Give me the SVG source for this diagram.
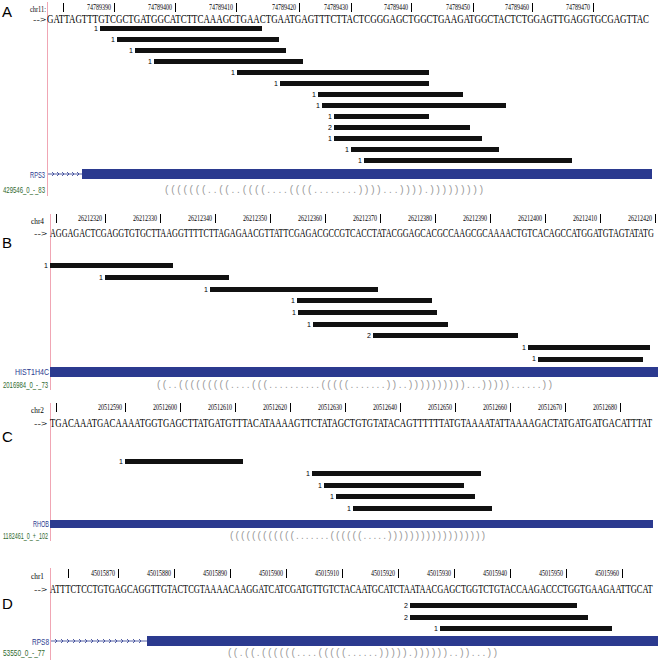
<svg xmlns="http://www.w3.org/2000/svg" width="661" height="662" viewBox="0 0 661 662">
<style>
.bg{fill:#fff}
.pl{font-family:"Liberation Sans",Arial,sans-serif;font-size:15px;fill:#000}
.chr{font-family:"Liberation Serif",serif;font-size:9px;fill:#000}
.tk{stroke:#000;stroke-width:1}
.tl{font-family:"Liberation Serif",serif;font-size:8px;fill:#000;text-anchor:end}
.seq{font-family:"Liberation Serif",serif;font-size:12px;fill:#000}
.arr{font-family:"Liberation Sans",sans-serif;font-size:8px;fill:#000}
.rd{fill:#111}
.cnt{font-family:"Liberation Sans",sans-serif;font-size:7px;fill:#000;text-anchor:end}
.gene{fill:#2b3a8f}
.gn{font-family:"Liberation Sans",sans-serif;font-size:9px;fill:#2b3a8f;text-anchor:end}
.rid{font-family:"Liberation Sans",sans-serif;font-size:9px;fill:#2f6a2f}
.st{font-family:"Liberation Sans",sans-serif;font-size:10px;fill:#999}
.pink{stroke:#f0a6b4;stroke-width:1}
.gl{stroke:#2b3a8f;stroke-width:0.8;fill:none}
</style>
<rect class="bg" x="0" y="0" width="661" height="662"/>

<!-- Panel A -->
<g id="panelA">
<line class="pink" x1="47.5" y1="2" x2="47.5" y2="196"/>
<text class="pl" x="2" y="17">A</text>
<text class="chr" x="30" y="12" textLength="16" lengthAdjust="spacingAndGlyphs">chr11:</text>
<g class="tk"><line x1="63.5" y1="3" x2="63.5" y2="12"/><line x1="114.5" y1="3" x2="114.5" y2="12"/><line x1="175.5" y1="3" x2="175.5" y2="12"/><line x1="236.5" y1="3" x2="236.5" y2="12"/><line x1="299.5" y1="3" x2="299.5" y2="12"/><line x1="351.5" y1="3" x2="351.5" y2="12"/><line x1="411.5" y1="3" x2="411.5" y2="12"/><line x1="473.5" y1="3" x2="473.5" y2="12"/><line x1="532.5" y1="3" x2="532.5" y2="12"/><line x1="593.5" y1="3" x2="593.5" y2="12"/></g>
<g class="tl">
<text x="111" y="10" textLength="24" lengthAdjust="spacingAndGlyphs">74789390</text><text x="172" y="10" textLength="24" lengthAdjust="spacingAndGlyphs">74789400</text><text x="233" y="10" textLength="24" lengthAdjust="spacingAndGlyphs">74789410</text><text x="296" y="10" textLength="24" lengthAdjust="spacingAndGlyphs">74789420</text><text x="348" y="10" textLength="24" lengthAdjust="spacingAndGlyphs">74789430</text><text x="408" y="10" textLength="24" lengthAdjust="spacingAndGlyphs">74789440</text><text x="470" y="10" textLength="24" lengthAdjust="spacingAndGlyphs">74789450</text><text x="529" y="10" textLength="24" lengthAdjust="spacingAndGlyphs">74789460</text><text x="590" y="10" textLength="24" lengthAdjust="spacingAndGlyphs">74789470</text>
</g>
<text class="arr" x="33" y="22" textLength="13" lengthAdjust="spacingAndGlyphs">--&gt;</text>
<text class="seq" transform="translate(47,23) scale(0.7,1)" x="0" y="0" textLength="860" lengthAdjust="spacingAndGlyphs">GATTAGTTTGTCGCTGATGGCATCTTCAAAGCTGAACTGAATGAGTTTCTTACTCGGGAGCTGGCTGAAGATGGCTACTCTGGAGTTGAGGTGCGAGTTAC</text>
</g>
<g id="readsA">
<text class="cnt" x="98" y="31">1</text><rect class="rd" x="100" y="26" width="162" height="5"/>
<text class="cnt" x="115" y="42">1</text><rect class="rd" x="117" y="37" width="162" height="5"/>
<text class="cnt" x="133" y="53">1</text><rect class="rd" x="135" y="48" width="151" height="5"/>
<text class="cnt" x="152" y="64">1</text><rect class="rd" x="154" y="59" width="149" height="5"/>
<text class="cnt" x="235" y="75">1</text><rect class="rd" x="237" y="70" width="192" height="5"/>
<text class="cnt" x="278" y="86">1</text><rect class="rd" x="280" y="81" width="149" height="5"/>
<text class="cnt" x="316" y="97">1</text><rect class="rd" x="318" y="92" width="145" height="5"/>
<text class="cnt" x="320" y="108">1</text><rect class="rd" x="322" y="103" width="184" height="5"/>
<text class="cnt" x="332" y="119">1</text><rect class="rd" x="334" y="114" width="95" height="5"/>
<text class="cnt" x="332" y="130">2</text><rect class="rd" x="334" y="125" width="136" height="5"/>
<text class="cnt" x="332" y="141">1</text><rect class="rd" x="334" y="136" width="148" height="5"/>
<text class="cnt" x="349" y="152">1</text><rect class="rd" x="351" y="147" width="148" height="5"/>
<text class="cnt" x="362" y="163">1</text><rect class="rd" x="364" y="158" width="208" height="5"/>
</g>
<g id="geneA">
<text class="gn" x="45" y="178" textLength="15" lengthAdjust="spacingAndGlyphs">RPS3</text>
<path class="gl" d="M48,174 H82 M52,172 l2,2 l-2,2 M57,172 l2,2 l-2,2 M62,172 l2,2 l-2,2 M67,172 l2,2 l-2,2 M72,172 l2,2 l-2,2 M77,172 l2,2 l-2,2"/>
<rect class="gene" x="82" y="169" width="570" height="10"/>
<text class="rid" x="3" y="193" textLength="42" lengthAdjust="spacingAndGlyphs">429546_0_-_83</text>
<text class="st" x="165" y="193" textLength="318" lengthAdjust="spacing">(((((((..((..((((....((((........))))...)))).)))))))))</text>
</g>

<!-- Panel B -->
<g id="panelB">
<line class="pink" x1="50.5" y1="214" x2="50.5" y2="390"/>
<text class="pl" x="2" y="248">B</text>
<text class="chr" x="31" y="224" textLength="13" lengthAdjust="spacingAndGlyphs">chr4</text>
<g class="tk"><line x1="56.5" y1="214" x2="56.5" y2="223"/><line x1="105.5" y1="214" x2="105.5" y2="223"/><line x1="160.5" y1="214" x2="160.5" y2="223"/><line x1="215.5" y1="214" x2="215.5" y2="223"/><line x1="270.5" y1="214" x2="270.5" y2="223"/><line x1="325.5" y1="214" x2="325.5" y2="223"/><line x1="380.5" y1="214" x2="380.5" y2="223"/><line x1="435.5" y1="214" x2="435.5" y2="223"/><line x1="490.5" y1="214" x2="490.5" y2="223"/><line x1="545.5" y1="214" x2="545.5" y2="223"/><line x1="600.5" y1="214" x2="600.5" y2="223"/><line x1="655.5" y1="214" x2="655.5" y2="223"/></g>
<g class="tl">
<text x="102" y="221" textLength="24" lengthAdjust="spacingAndGlyphs">26212320</text><text x="157" y="221" textLength="24" lengthAdjust="spacingAndGlyphs">26212330</text><text x="212" y="221" textLength="24" lengthAdjust="spacingAndGlyphs">26212340</text><text x="267" y="221" textLength="24" lengthAdjust="spacingAndGlyphs">26212350</text><text x="322" y="221" textLength="24" lengthAdjust="spacingAndGlyphs">26212360</text><text x="377" y="221" textLength="24" lengthAdjust="spacingAndGlyphs">26212370</text><text x="432" y="221" textLength="24" lengthAdjust="spacingAndGlyphs">26212380</text><text x="487" y="221" textLength="24" lengthAdjust="spacingAndGlyphs">26212390</text><text x="542" y="221" textLength="24" lengthAdjust="spacingAndGlyphs">26212400</text><text x="597" y="221" textLength="24" lengthAdjust="spacingAndGlyphs">26212410</text><text x="652" y="221" textLength="24" lengthAdjust="spacingAndGlyphs">26212420</text>
</g>
<text class="arr" x="34" y="236" textLength="13" lengthAdjust="spacingAndGlyphs">--&gt;</text>
<text class="seq" transform="translate(50,237) scale(0.65,1)" x="0" y="0" textLength="929" lengthAdjust="spacingAndGlyphs">AGGAGACTCGAGGTGTGCTTAAGGTTTTCTTAGAGAACGTTATTCGAGACGCCGTCACCTATACGGAGCACGCCAAGCGCAAAACTGTCACAGCCATGGATGTAGTATATG</text>
</g>
<g id="readsB">
<text class="cnt" x="48" y="268">1</text><rect class="rd" x="50" y="263" width="123" height="5"/>
<text class="cnt" x="103" y="280">1</text><rect class="rd" x="105" y="275" width="124" height="5"/>
<text class="cnt" x="208" y="292">1</text><rect class="rd" x="210" y="287" width="168" height="5"/>
<text class="cnt" x="295" y="303">1</text><rect class="rd" x="297" y="298" width="135" height="5"/>
<text class="cnt" x="296" y="315">1</text><rect class="rd" x="298" y="310" width="139" height="5"/>
<text class="cnt" x="311" y="327">1</text><rect class="rd" x="313" y="322" width="135" height="5"/>
<text class="cnt" x="371" y="338">2</text><rect class="rd" x="373" y="333" width="145" height="5"/>
<text class="cnt" x="526" y="350">1</text><rect class="rd" x="528" y="345" width="122" height="5"/>
<text class="cnt" x="536" y="361">1</text><rect class="rd" x="538" y="357" width="105" height="5"/>
</g>
<g id="geneB">
<text class="gn" x="49" y="375" textLength="34" lengthAdjust="spacingAndGlyphs">HIST1H4C</text>
<rect class="gene" x="50" y="367" width="608" height="10"/>
<text class="rid" x="3" y="388" textLength="45" lengthAdjust="spacingAndGlyphs">2016984_0_-_73</text>
<text class="st" x="157" y="388" textLength="395" lengthAdjust="spacing">((..(((((((((....(((..........(((((.......))..))))))))))...)))))......))</text>
</g>

<!-- Panel C -->
<g id="panelC">
<line class="pink" x1="50.5" y1="403" x2="50.5" y2="541"/>
<text class="pl" x="2" y="442">C</text>
<text class="chr" x="31" y="413" textLength="13" lengthAdjust="spacingAndGlyphs">chr2</text>
<g class="tk"><line x1="56.5" y1="403" x2="56.5" y2="412"/><line x1="125.5" y1="403" x2="125.5" y2="412"/><line x1="180.5" y1="403" x2="180.5" y2="412"/><line x1="235.5" y1="403" x2="235.5" y2="412"/><line x1="290.5" y1="403" x2="290.5" y2="412"/><line x1="345.5" y1="403" x2="345.5" y2="412"/><line x1="400.5" y1="403" x2="400.5" y2="412"/><line x1="455.5" y1="403" x2="455.5" y2="412"/><line x1="510.5" y1="403" x2="510.5" y2="412"/><line x1="565.5" y1="403" x2="565.5" y2="412"/><line x1="620.5" y1="403" x2="620.5" y2="412"/></g>
<g class="tl">
<text x="122" y="410" textLength="24" lengthAdjust="spacingAndGlyphs">20512590</text><text x="177" y="410" textLength="24" lengthAdjust="spacingAndGlyphs">20512600</text><text x="232" y="410" textLength="24" lengthAdjust="spacingAndGlyphs">20512610</text><text x="287" y="410" textLength="24" lengthAdjust="spacingAndGlyphs">20512620</text><text x="342" y="410" textLength="24" lengthAdjust="spacingAndGlyphs">20512630</text><text x="397" y="410" textLength="24" lengthAdjust="spacingAndGlyphs">20512640</text><text x="452" y="410" textLength="24" lengthAdjust="spacingAndGlyphs">20512650</text><text x="507" y="410" textLength="24" lengthAdjust="spacingAndGlyphs">20512660</text><text x="562" y="410" textLength="24" lengthAdjust="spacingAndGlyphs">20512670</text><text x="617" y="410" textLength="24" lengthAdjust="spacingAndGlyphs">20512680</text>
</g>
<text class="arr" x="34" y="426" textLength="13" lengthAdjust="spacingAndGlyphs">--&gt;</text>
<text class="seq" transform="translate(50,427) scale(0.7,1)" x="0" y="0" textLength="860" lengthAdjust="spacingAndGlyphs">TGACAAATGACAAAATGGTGAGCTTATGATGTTTACATAAAAGTTCTATAGCTGTGTATACAGTTTTTTATGTAAAATATTAAAAGACTATGATGATGACATTTAT</text>
</g>
<g id="readsC">
<text class="cnt" x="123" y="464">1</text><rect class="rd" x="125" y="459" width="118" height="5"/>
<text class="cnt" x="310" y="476">1</text><rect class="rd" x="312" y="471" width="169" height="5"/>
<text class="cnt" x="322" y="488">1</text><rect class="rd" x="324" y="483" width="140" height="5"/>
<text class="cnt" x="334" y="499">1</text><rect class="rd" x="336" y="494" width="139" height="5"/>
<text class="cnt" x="351" y="511">1</text><rect class="rd" x="353" y="506" width="139" height="5"/>
</g>
<g id="geneC">
<text class="gn" x="49" y="527" textLength="16" lengthAdjust="spacingAndGlyphs">RHOB</text>
<rect class="gene" x="50" y="520" width="603" height="8"/>
<text class="rid" x="3" y="539" textLength="45" lengthAdjust="spacingAndGlyphs">1182461_0_+_102</text>
<text class="st" x="230" y="539" textLength="255" lengthAdjust="spacing">((((((((((((.......((((((.....))))))))))))))))))</text>
</g>

<!-- Panel D -->
<g id="panelD">
<line class="pink" x1="50.5" y1="568" x2="50.5" y2="660"/>
<text class="pl" x="2" y="609">D</text>
<text class="chr" x="31" y="579" textLength="13" lengthAdjust="spacingAndGlyphs">chr1</text>
<g class="tk"><line x1="68.5" y1="569" x2="68.5" y2="578"/><line x1="118.5" y1="569" x2="118.5" y2="578"/><line x1="174.5" y1="569" x2="174.5" y2="578"/><line x1="230.5" y1="569" x2="230.5" y2="578"/><line x1="286.5" y1="569" x2="286.5" y2="578"/><line x1="342.5" y1="569" x2="342.5" y2="578"/><line x1="398.5" y1="569" x2="398.5" y2="578"/><line x1="454.5" y1="569" x2="454.5" y2="578"/><line x1="510.5" y1="569" x2="510.5" y2="578"/><line x1="566.5" y1="569" x2="566.5" y2="578"/><line x1="622.5" y1="569" x2="622.5" y2="578"/></g>
<g class="tl">
<text x="115" y="576" textLength="24" lengthAdjust="spacingAndGlyphs">45015870</text><text x="171" y="576" textLength="24" lengthAdjust="spacingAndGlyphs">45015880</text><text x="227" y="576" textLength="24" lengthAdjust="spacingAndGlyphs">45015890</text><text x="283" y="576" textLength="24" lengthAdjust="spacingAndGlyphs">45015900</text><text x="339" y="576" textLength="24" lengthAdjust="spacingAndGlyphs">45015910</text><text x="395" y="576" textLength="24" lengthAdjust="spacingAndGlyphs">45015920</text><text x="451" y="576" textLength="24" lengthAdjust="spacingAndGlyphs">45015930</text><text x="507" y="576" textLength="24" lengthAdjust="spacingAndGlyphs">45015940</text><text x="563" y="576" textLength="24" lengthAdjust="spacingAndGlyphs">45015950</text><text x="619" y="576" textLength="24" lengthAdjust="spacingAndGlyphs">45015960</text>
</g>
<text class="arr" x="34" y="592" textLength="13" lengthAdjust="spacingAndGlyphs">--&gt;</text>
<text class="seq" transform="translate(50,593) scale(0.7,1)" x="0" y="0" textLength="861" lengthAdjust="spacingAndGlyphs">ATTTCTCCTGTGAGCAGGTTGTACTCGTAAAACAAGGATCATCGATGTTGTCTACAATGCATCTAATAACGAGCTGGTCTGTACCAAGACCCTGGTGAAGAATTGCAT</text>
</g>
<g id="readsD">
<text class="cnt" x="408" y="608">2</text><rect class="rd" x="410" y="603" width="167" height="5"/>
<text class="cnt" x="408" y="620">2</text><rect class="rd" x="410" y="615" width="178" height="5"/>
<text class="cnt" x="438" y="631">1</text><rect class="rd" x="440" y="626" width="172" height="5"/>
</g>
<g id="geneD">
<text class="gn" x="49" y="645" textLength="17" lengthAdjust="spacingAndGlyphs">RPS8</text>
<path class="gl" d="M51,641 H147 M55,639 l2,2 l-2,2 M61,639 l2,2 l-2,2 M67,639 l2,2 l-2,2 M73,639 l2,2 l-2,2 M79,639 l2,2 l-2,2 M85,639 l2,2 l-2,2 M91,639 l2,2 l-2,2 M97,639 l2,2 l-2,2 M103,639 l2,2 l-2,2 M109,639 l2,2 l-2,2 M115,639 l2,2 l-2,2 M121,639 l2,2 l-2,2 M127,639 l2,2 l-2,2 M133,639 l2,2 l-2,2 M139,639 l2,2 l-2,2"/>
<rect class="gene" x="147" y="636" width="511" height="10"/>
<text class="rid" x="3" y="656" textLength="42" lengthAdjust="spacingAndGlyphs">53550_0_-_77</text>
<text class="st" x="228" y="656" textLength="269" lengthAdjust="spacing">((.((.((((((....(((((......))))).))))))..))...))</text>
</g>
</svg>
